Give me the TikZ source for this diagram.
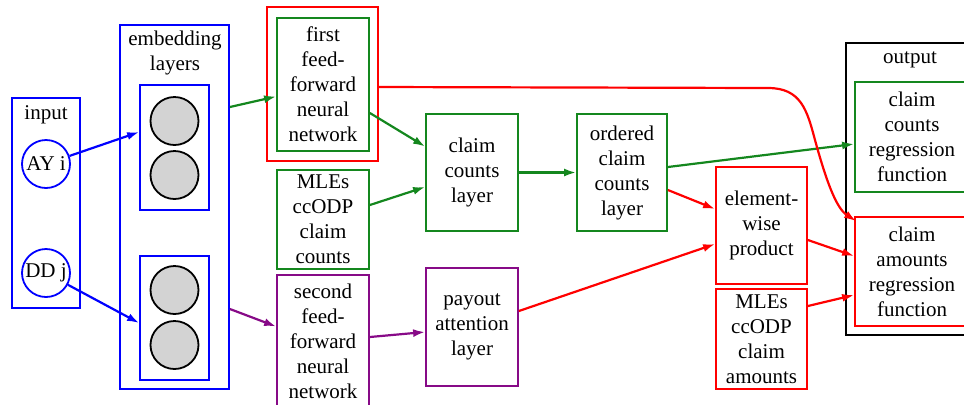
\documentclass[tikz,border=0pt]{standalone}
\usepackage{fontspec}
\setmainfont{Liberation Serif}
\usetikzlibrary{arrows.meta}

\definecolor{gvgreen}{RGB}{20,135,30}
\definecolor{gvpurple}{RGB}{135,10,135}
\definecolor{gvgray}{RGB}{211,211,211}

\begin{document}
\begin{tikzpicture}[x=0.5pt, y=-0.5pt,
  every node/.style={font=\fontsize{10.5}{12.5}\selectfont, align=center, inner sep=0pt},
  box/.style={draw, rectangle, line width=0.9pt},
  neuron/.style={circle, draw=black, fill=gvgray, line width=0.9pt, minimum size=24pt},
  conn/.style={-{Latex[length=6pt,width=4pt]}, line width=1.1pt}]
\useasboundingbox (0,0) rectangle (964,404);

% input
\node (input) at (46,203) [box, draw=blue, minimum width=34pt, minimum height=105pt] {};
\node (inputlbl) at (46,115) {input};
\node (ayi) at (46,164) [circle, draw=blue, line width=0.9pt, minimum size=24pt] {AY i};
\node (ddj) at (46,273) [circle, draw=blue, line width=0.9pt, minimum size=24pt] {DD j};

% embedding layers
\node (emb) at (174.5,207) [box, draw=blue, minimum width=54.5pt, minimum height=182pt] {};
\node (emblbl) at (175,53) {embedding\\layers};
\node (ea) at (174.5,147.5) [box, draw=blue, minimum width=34.5pt, minimum height=62.5pt] {};
\node (ea1) at (174.5,121) [neuron] {};
\node (ea2) at (174.5,175) [neuron] {};
\node (eb) at (174.5,318) [box, draw=blue, minimum width=34.5pt, minimum height=62pt] {};
\node (eb1) at (174.5,290) [neuron] {};
\node (eb2) at (174.5,345) [neuron] {};

% feed-forward networks
\node (ffred) at (322.5,84) [box, draw=red, minimum width=55.5pt, minimum height=77pt] {};
\node (ffa) at (323,84.5) [box, draw=gvgreen, minimum width=46pt, minimum height=66.5pt] {first\\feed-\\forward\\neural\\network};
\node (mlec) at (323,219.5) [box, draw=gvgreen, minimum width=46pt, minimum height=49.5pt] {MLEs\\ccODP\\claim\\counts};
\node (ffb) at (323,341.5) [box, draw=gvpurple, minimum width=46pt, minimum height=66.5pt] {second\\feed-\\forward\\neural\\network};

% layers
\node (ccl) at (472,172.5) [box, draw=gvgreen, minimum width=46pt, minimum height=58.5pt] {claim\\counts\\layer};
\node (pal) at (472,327) [box, draw=gvpurple, minimum width=46pt, minimum height=59pt] {payout\\attention\\layer};
\node (occl) at (622,172.5) [box, draw=gvgreen, minimum width=45pt, minimum height=58.5pt] {ordered\\claim\\counts\\layer};
\node (ewp) at (761.5,225.5) [box, draw=red, minimum width=45.5pt, minimum height=58.5pt] {element-\\wise\\product};
\node (mlea) at (761.5,339) [box, draw=red, minimum width=45.5pt, minimum height=50pt] {MLEs\\ccODP\\claim\\amounts};

% output
\node (out) at (912,189) [box, draw=black, line width=1.3pt, minimum width=66pt, minimum height=146pt] {};
\node (outlbl) at (910,60) {output};
\node (ccrf) at (912,137) [box, draw=gvgreen, minimum width=57pt, minimum height=55pt] {claim\\counts\\regression\\function};
\node (carf) at (912,271.5) [box, draw=red, minimum width=57pt, minimum height=54.5pt] {claim\\amounts\\regression\\function};

% input to embeddings
\draw[conn, blue] (ayi) -- ([shift={(0,-15.5)}]ea.west);
\draw[conn, blue] (ddj) -- ([shift={(0,5)}]eb.west);

% embeddings to networks
\draw[conn, gvgreen] ([shift={(0,-100)}]emb.east) -- ([shift={(0,12)}]ffa.west);
\draw[conn, gvpurple] ([shift={(0,102)}]emb.east) -- ([shift={(0,-15)}]ffb.west);

% claim counts branch
\draw[conn, gvgreen] ([shift={(0,28.5)}]ffa.east) -- ([shift={(0,-26)}]ccl.west);
\draw[conn, gvgreen] ([shift={(0,-14.5)}]mlec.east) -- ([shift={(0,14.5)}]ccl.west);
\draw[conn, gvgreen] (ccl) -- (occl);
\draw[conn, gvgreen] ([shift={(0,-5.5)}]occl.east) -- ([shift={(0,7)}]ccrf.west);

% payout branch
\draw[conn, gvpurple] ([shift={(0,-4.5)}]ffb.east) -- ([shift={(0,5)}]pal.west);
\draw[conn, red] ([shift={(0,17.5)}]occl.east) -- ([shift={(0,-16.5)}]ewp.west);
\draw[conn, red] ([shift={(0,-16)}]pal.east) -- ([shift={(0,18.5)}]ewp.west);
\draw[conn, red] ([shift={(0,14.5)}]ewp.east) -- ([shift={(0,-15.5)}]carf.west);
\draw[conn, red] ([shift={(0,-33)}]mlea.east) -- ([shift={(0,23.5)}]carf.west);

% skip connection
\draw[conn, red] ([shift={(0,3)}]ffred.east) -- (768,88)
  .. controls (801,88) and (807,110) .. (815,140)
  .. controls (826,180) and (836,208) .. ([shift={(2,5)}]carf.north west);

\end{tikzpicture}
\end{document}
